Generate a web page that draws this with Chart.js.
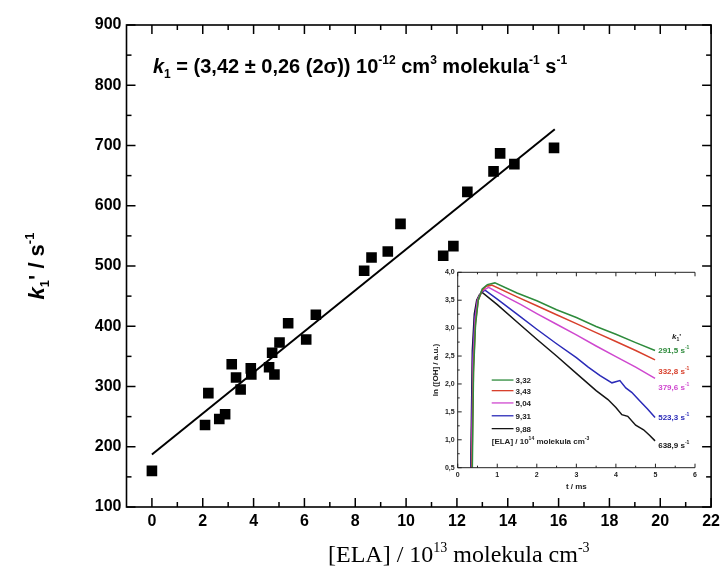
<!DOCTYPE html>
<html><head><meta charset="utf-8">
<script src="https://cdn.jsdelivr.net/npm/chart.js@4.4.0/dist/chart.umd.min.js"></script>
<style>
html,body{margin:0;padding:0;background:#fff;}
#wrap{position:relative;width:725px;height:569px;overflow:hidden;}
#main{position:absolute;left:0;top:0;}
#inset{position:absolute;left:420px;top:255px;}
</style></head><body>
<div id="wrap">
<canvas id="main" width="725" height="569"></canvas>
<canvas id="inset" width="295" height="250"></canvas>
</div>
<script>
// ---------- main chart data ----------
const elaConc = [0, 2.09, 2.22, 2.65, 2.88, 3.14, 3.31, 3.49, 3.89, 3.91, 4.61, 4.82, 4.73, 5.02, 5.36, 6.07, 6.45, 8.35, 8.64, 9.28, 9.78, 11.46, 11.86, 12.41, 13.44, 13.70, 14.26, 15.82];
const k1Rates = [160, 236, 289, 246, 254, 337, 315, 295, 330, 320, 332, 320, 356, 373, 405, 378, 419, 492, 514, 524, 570, 517, 533, 623, 657, 687, 669, 696];
const fitX = [0, 15.85];
const fitY = [187, 727];
const xMajorTicks = [0, 2, 4, 6, 8, 10, 12, 14, 16, 18, 20, 22];
const xMinorTicks = [1, 3, 5, 7, 9, 11, 13, 15, 17, 19, 21];
const xTickLabels = ['0', '2', '4', '6', '8', '10', '12', '14', '16', '18', '20', '22'];
const yMajorTicks = [100, 200, 300, 400, 500, 600, 700, 800, 900];
const yMinorTicks = [150, 250, 350, 450, 550, 650, 750, 850];
const yTickLabels = ['100', '200', '300', '400', '500', '600', '700', '800', '900'];

// ---------- inset data ----------
const insetConcLabels = ['3,32', '3,43', '5,04', '9,31', '9,88'];
const insetRateLabels = ['291,5', '332,8', '379,6', '523,3', '638,9'];
const tGreen = [0.37, 0.40, 0.45, 0.52, 0.62, 0.75, 0.94, 1.5, 2.0, 2.5, 3.0, 3.5, 4.0, 4.5, 4.99];
const lnGreen = [0.5, 2.2, 3.05, 3.5, 3.7, 3.78, 3.81, 3.63, 3.49, 3.33, 3.19, 3.03, 2.89, 2.74, 2.60];
const tRed = [0.36, 0.40, 0.45, 0.52, 0.62, 0.72, 0.86, 1.5, 2.0, 2.5, 3.0, 3.5, 4.0, 4.5, 4.99];
const lnRed = [0.5, 2.3, 3.1, 3.5, 3.68, 3.75, 3.77, 3.56, 3.40, 3.24, 3.08, 2.92, 2.76, 2.60, 2.43];
const tMagenta = [0.35, 0.39, 0.44, 0.5, 0.6, 0.78, 1.2, 1.6, 2.0, 2.5, 3.0, 3.5, 4.0, 4.5, 4.99];
const lnMagenta = [0.5, 2.4, 3.15, 3.5, 3.66, 3.73, 3.57, 3.42, 3.26, 3.07, 2.88, 2.68, 2.49, 2.30, 2.10];
const tBlue = [0.34, 0.38, 0.43, 0.5, 0.6, 0.69, 1.0, 1.5, 2.0, 2.5, 3.0, 3.3, 3.6, 3.9, 4.1, 4.25, 4.4, 4.6, 4.8, 4.99];
const lnBlue = [0.5, 2.5, 3.2, 3.5, 3.64, 3.68, 3.52, 3.25, 2.98, 2.72, 2.47, 2.30, 2.15, 2.02, 2.06, 1.93, 1.85, 1.70, 1.55, 1.40];
const tBlack = [0.33, 0.37, 0.42, 0.48, 0.55, 0.62, 1.0, 1.5, 2.0, 2.5, 3.0, 3.5, 3.8, 4.0, 4.15, 4.3, 4.5, 4.7, 4.85, 4.99];
const lnBlack = [0.5, 2.6, 3.25, 3.5, 3.6, 3.64, 3.42, 3.11, 2.80, 2.50, 2.19, 1.88, 1.72, 1.58, 1.45, 1.42, 1.26, 1.18, 1.08, 0.98];
const insetXTicks = [0, 1, 2, 3, 4, 5, 6];
const insetXMinor = [0.5, 1.5, 2.5, 3.5, 4.5, 5.5];
const insetXTickLabels = ['0', '1', '2', '3', '4', '5', '6'];
const insetYTicks = [0.5, 1.0, 1.5, 2.0, 2.5, 3.0, 3.5, 4.0];
const insetYMinor = [0.75, 1.25, 1.75, 2.25, 2.75, 3.25, 3.75];
const insetYTickLabels = ['0,5', '1,0', '1,5', '2,0', '2,5', '3,0', '3,5', '4,0'];

const seriesColors = ['#2e8b3c', '#d8402c', '#cf48cf', '#2a2ab8', '#151515'];

// ---------- helpers ----------
function drawRich(ctx, segs, x, y, align) {
  let w = 0;
  segs.forEach(s => { ctx.font = s.font; w += ctx.measureText(s.t).width; });
  let cx = align === 'center' ? x - w / 2 : (align === 'right' ? x - w : x);
  ctx.textBaseline = 'alphabetic';
  ctx.textAlign = 'left';
  segs.forEach(s => {
    ctx.font = s.font;
    ctx.fillText(s.t, cx, y + (s.dy || 0));
    cx += ctx.measureText(s.t).width;
  });
}
function seg(t, font, dy) { return { t, font, dy }; }

// ---------- main decorations ----------
const mainDecor = {
  id: 'mainDecor',
  afterDraw(chart) {
    const { ctx, chartArea: a, scales: { x, y } } = chart;
    ctx.save();
    ctx.strokeStyle = '#000';
    ctx.fillStyle = '#000';
    ctx.lineWidth = 1.6;
    ctx.strokeRect(a.left, a.top, a.right - a.left, a.bottom - a.top);
    ctx.lineWidth = 1.5;
    const ln = (x1, y1, x2, y2) => { ctx.beginPath(); ctx.moveTo(x1, y1); ctx.lineTo(x2, y2); ctx.stroke(); };
    xMajorTicks.forEach(v => { const p = x.getPixelForValue(v); ln(p, a.bottom, p, a.bottom - 9); ln(p, a.top, p, a.top + 9); });
    xMinorTicks.forEach(v => { const p = x.getPixelForValue(v); ln(p, a.bottom, p, a.bottom - 5); ln(p, a.top, p, a.top + 5); });
    yMajorTicks.forEach(v => { const p = y.getPixelForValue(v); ln(a.left, p, a.left + 9, p); ln(a.right, p, a.right - 9, p); });
    yMinorTicks.forEach(v => { const p = y.getPixelForValue(v); ln(a.left, p, a.left + 5, p); ln(a.right, p, a.right - 5, p); });

    // equation
    const B = 'bold 20px "Liberation Sans", Arial, sans-serif';
    const BI = 'italic bold 20px "Liberation Sans", Arial, sans-serif';
    const S = 'bold 12px "Liberation Sans", Arial, sans-serif';
    drawRich(ctx, [
      seg('k', BI), seg('1', S, 5), seg(' = (3,42 \u00B1 0,26 (2\u03C3)) 10', B), seg('-12', S, -9),
      seg(' cm', B), seg('3', S, -9), seg(' molekula', B), seg('-1', S, -9), seg(' s', B), seg('-1', S, -9)
    ], 153, 73, 'left');

    // x title
    const T = '24px "Liberation Serif", "Times New Roman", serif';
    const TS = '14px "Liberation Serif", "Times New Roman", serif';
    drawRich(ctx, [seg('[ELA] / 10', T), seg('13', TS, -10), seg(' molekula cm', T), seg('-3', TS, -10)],
      (a.left + a.right) / 2 + 40, 562, 'center');

    // y title
    ctx.translate(44, (a.top + a.bottom) / 2);
    ctx.rotate(-Math.PI / 2);
    const YB = 'bold 22px "Liberation Sans", Arial, sans-serif';
    const YBI = 'italic bold 22px "Liberation Sans", Arial, sans-serif';
    const YS = 'bold 13px "Liberation Sans", Arial, sans-serif';
    drawRich(ctx, [seg('k', YBI), seg('1', YS, 5), seg("' / s", YB), seg('-1', YS, -10)], 0, 0, 'center');
    ctx.restore();
  }
};

new Chart(document.getElementById('main'), {
  type: 'scatter',
  data: {
    datasets: [
      { data: elaConc.map((v, i) => ({ x: v, y: k1Rates[i] })), pointStyle: 'rect', pointRadius: 7.5, pointBackgroundColor: '#000', pointBorderColor: '#000', pointBorderWidth: 0, showLine: false },
      { data: fitX.map((v, i) => ({ x: v, y: fitY[i] })), showLine: true, borderColor: '#000', borderWidth: 2, pointRadius: 0 }
    ]
  },
  options: {
    responsive: false, animation: false, devicePixelRatio: 1,
    layout: { padding: { top: 25, right: 9, left: 0, bottom: 0 } },
    plugins: { legend: { display: false }, tooltip: { enabled: false } },
    scales: {
      x: {
        type: 'linear', min: -1, max: 22,
        afterBuildTicks: s => { s.ticks = xMajorTicks.map(v => ({ value: v })); },
        afterFit: s => { s.height = 62; },
        ticks: { callback: (v, i) => xTickLabels[i], autoSkip: false, maxRotation: 0, padding: 5, color: '#000', font: { family: '"Liberation Sans", Arial, sans-serif', weight: 'bold', size: 16 } },
        grid: { display: false, drawTicks: false }, border: { display: false }
      },
      y: {
        type: 'linear', min: 100, max: 900,
        afterBuildTicks: s => { s.ticks = yMajorTicks.map(v => ({ value: v })); },
        afterFit: s => { s.width = 126.5; },
        ticks: { callback: (v, i) => yTickLabels[i], autoSkip: false, padding: 5, color: '#000', font: { family: '"Liberation Sans", Arial, sans-serif', weight: 'bold', size: 16 } },
        grid: { display: false, drawTicks: false }, border: { display: false }
      }
    }
  },
  plugins: [mainDecor]
});

// ---------- inset ----------
const insetSeries = [[tGreen, lnGreen], [tRed, lnRed], [tMagenta, lnMagenta], [tBlue, lnBlue], [tBlack, lnBlack]];

const insetDecor = {
  id: 'insetDecor',
  afterDraw(chart) {
    const { ctx, chartArea: a, scales: { x, y } } = chart;
    ctx.save();
    ctx.strokeStyle = '#222';
    ctx.fillStyle = '#222';
    ctx.lineWidth = 1;
    const ln = (x1, y1, x2, y2) => { ctx.beginPath(); ctx.moveTo(x1, y1); ctx.lineTo(x2, y2); ctx.stroke(); };
    ln(a.left, a.top, a.right, a.top);
    ln(a.left, a.top, a.left, a.bottom);
    ln(a.left, a.bottom, a.right, a.bottom);
    insetXTicks.forEach(v => { const p = x.getPixelForValue(v); ln(p, a.bottom, p, a.bottom - 4); ln(p, a.top, p, a.top + 4); });
    insetXMinor.forEach(v => { const p = x.getPixelForValue(v); ln(p, a.bottom, p, a.bottom - 2); ln(p, a.top, p, a.top + 2); });
    insetYTicks.forEach(v => { const p = y.getPixelForValue(v); ln(a.left, p, a.left + 4, p); });
    insetYMinor.forEach(v => { const p = y.getPixelForValue(v); ln(a.left, p, a.left + 2, p); });

    const F = 'bold 8px "Liberation Sans", Arial, sans-serif';
    const FS = 'bold 5px "Liberation Sans", Arial, sans-serif';
    // rate labels
    const rateV = [2.60, 2.24, 1.95, 1.40, 0.91];
    const rx = x.getPixelForValue(5.07);
    insetRateLabels.forEach((t, i) => {
      ctx.fillStyle = seriesColors[i];
      drawRich(ctx, [seg(t + ' s', F), seg('-1', FS, -4)], rx, y.getPixelForValue(rateV[i]) + 3, 'left');
    });
    ctx.fillStyle = '#222';
    drawRich(ctx, [seg('k', 'italic ' + F), seg('1', FS, 2), seg("'", F)], x.getPixelForValue(5.42), y.getPixelForValue(2.86) + 3, 'left');

    // legend
    const lx0 = x.getPixelForValue(0.86), lx1 = x.getPixelForValue(1.41);
    const legV = [2.07, 1.88, 1.66, 1.43, 1.20];
    insetConcLabels.forEach((t, i) => {
      const py = y.getPixelForValue(legV[i]);
      ctx.strokeStyle = seriesColors[i]; ctx.lineWidth = 1.3;
      ln(lx0, py, lx1, py);
      ctx.fillStyle = '#222';
      drawRich(ctx, [seg(t, F)], lx1 + 2, py + 3, 'left');
    });
    drawRich(ctx, [seg('[ELA] / 10', F), seg('14', FS, -4), seg(' molekula cm', F), seg('-3', FS, -4)], lx0, y.getPixelForValue(0.98) + 3, 'left');

    // titles
    drawRich(ctx, [seg('t / ms', F)], x.getPixelForValue(3), a.bottom + 21, 'center');
    ctx.translate(15, (a.top + a.bottom) / 2);
    ctx.rotate(-Math.PI / 2);
    drawRich(ctx, [seg('ln ([OH] / a.u.)', F)], 0, 3, 'center');
    ctx.restore();
  }
};

new Chart(document.getElementById('inset'), {
  type: 'scatter',
  data: {
    datasets: insetSeries.map((s, i) => ({
      data: s[0].map((v, j) => ({ x: v, y: s[1][j] })),
      showLine: true, borderColor: seriesColors[i], borderWidth: 1.5, pointRadius: 0, fill: false
    }))
  },
  options: {
    responsive: false, animation: false, devicePixelRatio: 1,
    layout: { padding: { top: 17.3, right: 20, left: 0, bottom: 0 } },
    plugins: { legend: { display: false }, tooltip: { enabled: false } },
    scales: {
      x: {
        type: 'linear', min: 0, max: 6,
        afterBuildTicks: s => { s.ticks = insetXTicks.map(v => ({ value: v })); },
        afterFit: s => { s.height = 37.3; },
        ticks: { callback: (v, i) => insetXTickLabels[i], autoSkip: false, maxRotation: 0, padding: 3, color: '#222', font: { family: '"Liberation Sans", Arial, sans-serif', weight: 'bold', size: 7 } },
        grid: { display: false, drawTicks: false }, border: { display: false }
      },
      y: {
        type: 'linear', min: 0.5, max: 4.0,
        afterBuildTicks: s => { s.ticks = insetYTicks.map(v => ({ value: v })); },
        afterFit: s => { s.width = 37.7; },
        ticks: { callback: (v, i) => insetYTickLabels[i], autoSkip: false, padding: 3, color: '#222', font: { family: '"Liberation Sans", Arial, sans-serif', weight: 'bold', size: 7 } },
        grid: { display: false, drawTicks: false }, border: { display: false }
      }
    }
  },
  plugins: [insetDecor]
});
</script>
</body></html>
